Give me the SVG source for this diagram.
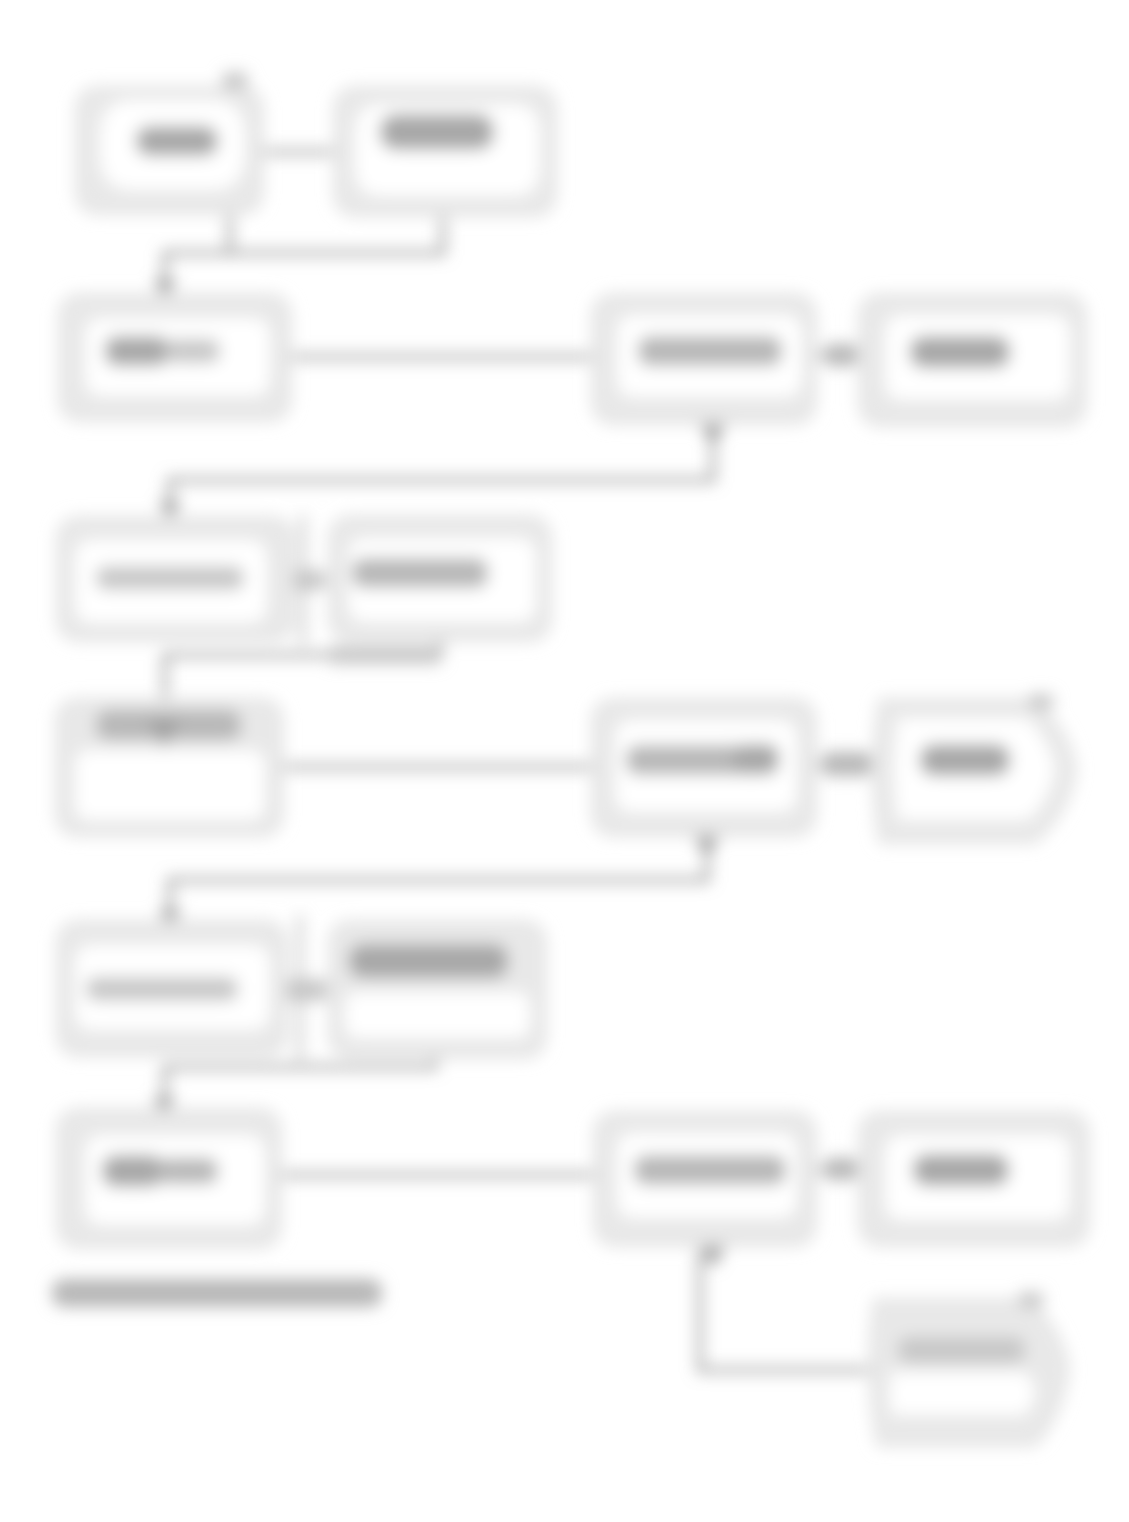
<svg xmlns="http://www.w3.org/2000/svg" width="1129" height="1522" viewBox="0 0 1129 1522">
<defs>
<filter id="soft" filterUnits="userSpaceOnUse" x="0" y="0" width="1129" height="1522">
<feGaussianBlur stdDeviation="8"/>
</filter>
<style>
.frame{fill:#e8e8e8;stroke:#dedede;stroke-width:3}
.inner{fill:#ffffff;stroke:none}
.dark{fill:#a8a8a8}
.mid{fill:#b8b8b8}
.light{fill:#c8c8c8}
.wire{fill:none;stroke:#9a9a9a;stroke-width:5}
.faint{fill:none;stroke:#c0c0c0;stroke-width:5}
.head{fill:#a0a0a0}
.ear{fill:#c8c8c8}
</style>
</defs>
<rect width="1129" height="1522" fill="#ffffff"/>
<g filter="url(#soft)">
<g id="connectors">
<line class="wire" x1="262" y1="152" x2="337" y2="152"/>
<polyline class="wire" points="230,213 230,253"/>
<polyline class="wire" points="443,213 443,253 165,253 165,290"/>
<polygon class="head" points="153,280 177,280 165,300"/>
<line class="wire" x1="290" y1="357" x2="593" y2="357"/>
<line class="wire" x1="815" y1="355" x2="860" y2="355"/>
<rect class="mid" x="826" y="344" width="30" height="22"/>
<polygon class="head" points="700,424 726,424 713,446"/>
<polyline class="wire" points="713,423 713,480 170,480 170,512"/>
<polygon class="head" points="158,502 182,502 170,520"/>
<line class="faint" x1="290" y1="580" x2="330" y2="580"/>
<rect class="light" x="282" y="570" width="42" height="20"/>
<line class="faint" x1="303" y1="515" x2="303" y2="645"/>
<polyline class="wire" points="440,640 440,655 165,655 165,700"/>
<rect class="light" x="330" y="646" width="110" height="18"/>
<line class="wire" x1="282" y1="767" x2="593" y2="767"/>
<line class="wire" x1="815" y1="765" x2="873" y2="765"/>
<rect class="mid" x="824" y="752" width="46" height="24"/>
<polygon class="head" points="694,836 720,836 707,858"/>
<polyline class="wire" points="707,835 707,880 170,880 170,920"/>
<polygon class="head" points="158,910 182,910 170,928"/>
<line class="faint" x1="286" y1="990" x2="330" y2="990"/>
<rect class="light" x="282" y="979" width="44" height="22"/>
<line class="faint" x1="300" y1="915" x2="300" y2="1060"/>
<polyline class="wire" points="435,1055 435,1067 165,1067 165,1108"/>
<polygon class="head" points="152,1098 176,1098 164,1117"/>
<line class="wire" x1="280" y1="1175" x2="595" y2="1175"/>
<line class="wire" x1="815" y1="1170" x2="860" y2="1170"/>
<rect class="mid" x="826" y="1158" width="30" height="22"/>
<polygon class="head" points="700,1246 726,1246 713,1268"/>
<polyline class="wire" points="700,1250 700,1370 870,1370"/>
</g>
<g id="node-a">
<rect class="frame" x="77" y="88" width="185" height="125" rx="20"/>
<rect class="inner" x="100" y="100" width="145" height="90" rx="30"/>
<rect class="ear" x="222" y="72" width="26" height="18" rx="8"/>
<rect class="dark" x="136" y="126" width="82" height="30" rx="14"/>
</g>
<g id="node-b">
<rect class="frame" x="335" y="88" width="220" height="127" rx="20"/>
<rect class="inner" x="355" y="104" width="185" height="92" rx="24"/>
<rect class="dark" x="380" y="114" width="114" height="36" rx="16"/>
</g>
<g id="node-c">
<rect class="frame" x="60" y="295" width="230" height="125" rx="20"/>
<rect class="inner" x="85" y="318" width="185" height="78" rx="16"/>
<rect class="dark" x="105" y="336" width="64" height="30" rx="12"/>
<rect class="light" x="165" y="339" width="55" height="24" rx="10"/>
</g>
<g id="node-d">
<rect class="frame" x="593" y="295" width="222" height="128" rx="20"/>
<rect class="inner" x="617" y="315" width="185" height="82" rx="16"/>
<rect class="mid" x="638" y="336" width="144" height="30" rx="12"/>
</g>
<g id="node-e">
<rect class="frame" x="860" y="295" width="225" height="130" rx="20"/>
<rect class="inner" x="885" y="315" width="185" height="85" rx="16"/>
<rect class="dark" x="910" y="336" width="100" height="32" rx="14"/>
</g>
<g id="node-f">
<rect class="frame" x="58" y="518" width="235" height="122" rx="20"/>
<rect class="inner" x="75" y="540" width="192" height="83" rx="16"/>
<rect class="light" x="96" y="566" width="148" height="24" rx="10"/>
</g>
<g id="node-g">
<rect class="frame" x="330" y="517" width="220" height="123" rx="20"/>
<rect class="inner" x="348" y="538" width="188" height="84" rx="16"/>
<rect class="mid" x="352" y="558" width="136" height="30" rx="12"/>
</g>
<g id="node-h">
<rect class="frame" x="57" y="700" width="225" height="135" rx="20"/>
<rect class="inner" x="75" y="750" width="190" height="70" rx="14"/>
<rect class="mid" x="96" y="710" width="145" height="30" rx="12"/>
<polygon class="head" points="148,720 180,720 164,748"/>
</g>
<g id="node-i">
<rect class="frame" x="593" y="700" width="222" height="135" rx="20"/>
<rect class="inner" x="615" y="720" width="182" height="92" rx="16"/>
<rect class="mid" x="626" y="745" width="152" height="30" rx="12"/>
<rect class="dark" x="733" y="744" width="46" height="30" rx="12"/>
</g>
<g id="node-j">
<path class="frame" d="M880,700 L1035,700 Q1072,735 1075,770 Q1070,810 1035,842 L880,842 Q868,770 880,700 Z"/>
<path class="inner" d="M898,718 L1028,718 Q1052,745 1055,770 Q1050,800 1028,820 L898,820 Q890,770 898,718 Z"/>
<rect class="ear" x="1028" y="694" width="26" height="16" rx="8"/>
<rect class="dark" x="920" y="744" width="90" height="32" rx="14"/>
</g>
<g id="node-k">
<rect class="frame" x="58" y="922" width="228" height="133" rx="20"/>
<rect class="inner" x="75" y="945" width="195" height="85" rx="16"/>
<rect class="light" x="86" y="977" width="152" height="24" rx="10"/>
</g>
<g id="node-l">
<rect class="frame" x="330" y="922" width="215" height="135" rx="20"/>
<rect class="inner" x="345" y="992" width="185" height="46" rx="12"/>
<rect class="dark" x="349" y="944" width="159" height="34" rx="14"/>
</g>
<g id="node-m">
<rect class="frame" x="58" y="1110" width="222" height="137" rx="20"/>
<rect class="inner" x="85" y="1135" width="180" height="90" rx="16"/>
<rect class="dark" x="102" y="1155" width="62" height="32" rx="14"/>
<rect class="mid" x="158" y="1158" width="60" height="26" rx="10"/>
</g>
<g id="node-n">
<rect class="frame" x="595" y="1113" width="220" height="132" rx="20"/>
<rect class="inner" x="617" y="1133" width="180" height="85" rx="16"/>
<rect class="mid" x="634" y="1155" width="152" height="30" rx="12"/>
</g>
<g id="node-o">
<rect class="frame" x="860" y="1113" width="228" height="132" rx="20"/>
<rect class="inner" x="885" y="1135" width="185" height="85" rx="16"/>
<rect class="dark" x="913" y="1154" width="96" height="32" rx="14"/>
</g>
<g id="node-p">
<path class="frame" d="M875,1300 L1030,1300 Q1065,1335 1068,1370 Q1062,1415 1035,1445 L878,1445 Q864,1370 875,1300 Z"/>
<path class="inner" d="M892,1372 L1025,1372 Q1036,1385 1035,1392 Q1034,1405 1025,1415 L892,1415 Q886,1392 892,1372 Z"/>
<rect class="light" x="898" y="1337" width="127" height="26" rx="10"/>
<rect class="ear" x="1018" y="1292" width="26" height="16" rx="8"/>
</g>
<g id="note">
<rect class="mid" x="52" y="1279" width="330" height="28" rx="12"/>
</g>
</g>
</svg>
